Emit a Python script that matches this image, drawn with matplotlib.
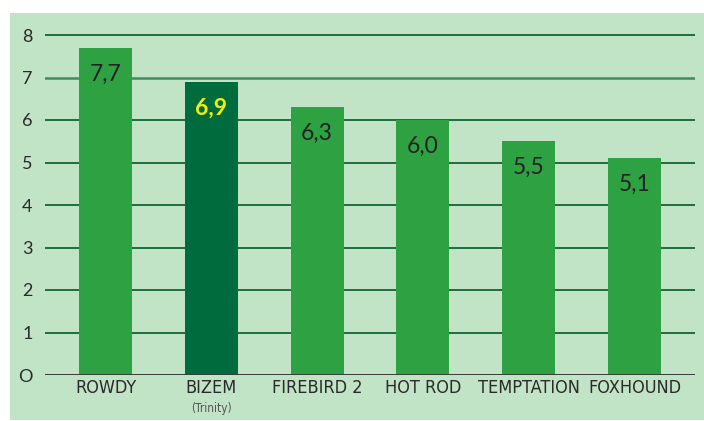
import matplotlib.pyplot as plt
from matplotlib.patches import Rectangle

varieties = ['ROWDY', 'BIZEM', 'FIREBIRD 2', 'HOT ROD', 'TEMPTATION', 'FOXHOUND']
scores = [7.7, 6.9, 6.3, 6.0, 5.5, 5.1]
score_labels = ['7,7', '6,9', '6,3', '6,0', '5,5', '5,1']
highlight = 'BIZEM'
yticks = [0, 1, 2, 3, 4, 5, 6, 7, 8]
ytick_labels = ['O', '1', '2', '3', '4', '5', '6', '7', '8']

bg = '#c1e3c6'
bar_green = '#2ea243'
dark_green = '#006b3c'
grid_green = '#1b6e3c'

W, H = 704, 421
fig = plt.figure(figsize=(W / 100, H / 100), dpi=100)
fig.patch.set_facecolor('white')
fig.patches.append(Rectangle((10 / W, 1 / H), (W - 10) / W, (420 - 13) / H,
                             transform=fig.transFigure, facecolor=bg,
                             edgecolor='none', zorder=-10))

ax = fig.add_axes([45 / W, (H - 375) / H, 650 / W, (375 - 13.75) / H])
ax.set_facecolor('none')
ax.set_zorder(1)

colors = [dark_green if v == highlight else bar_green for v in varieties]
x = list(range(len(varieties)))
ax.bar(x, scores, width=0.5, color=colors, zorder=3)

for i in range(len(varieties)):
    if varieties[i] == highlight:
        ax.text(x[i], scores[i] - 0.62, score_labels[i], ha='center', va='center',
                fontsize=16.5, fontweight='bold', color='#f2ee0c', family='Lato', zorder=4)
    else:
        ax.text(x[i], scores[i] - 0.62, score_labels[i], ha='center', va='center',
                fontsize=16.5, color='#222222', family='Lato', zorder=4)

for t in yticks[1:]:
    lc = '#3d8c5e' if t == 7 else grid_green
    ax.axhline(t, color=lc, lw=1.8 if t == 7 else 1.4, zorder=1)
ax.axhline(0, color='#3a3a3a', lw=1.4, zorder=4)

ax.set_xlim(-0.572, 5.572)
ax.set_ylim(0, 8.5)
ax.set_yticks(yticks)
ax.set_yticklabels(ytick_labels, fontsize=13, color='#2a2a2a', family='Lato')
ax.set_xticks(x)
ax.set_xticklabels(varieties, fontsize=13, color='#2a2a2a',
                   family='DejaVu Sans', fontstretch='condensed')
ax.tick_params(length=0)
ax.tick_params(axis='y', pad=9)
ax.tick_params(axis='x', pad=3)
for s in ax.spines.values():
    s.set_visible(False)

ax.text(1, -0.78, '(Trinity)', ha='center', va='center', fontsize=8.5,
        color='#555555', family='DejaVu Sans', fontstretch='condensed')

fig.savefig('out.png', dpi=100, facecolor='white')
